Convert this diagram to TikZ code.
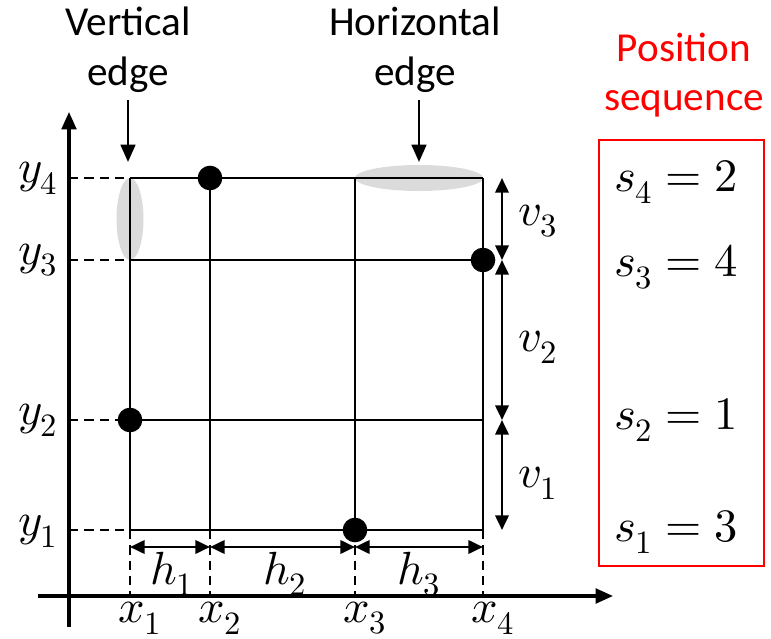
\documentclass[tikz,border=0pt]{standalone}
\usepackage{fontspec}
\usepackage{unicode-math}
\setmainfont{Carlito}
\setmathfont{Latin Modern Math}
\usetikzlibrary{arrows.meta}
\tikzset{
  axis/.style={line width=2.3bp,-{Triangle[length=13bp,width=11bp]}},
  gridline/.style={line width=1.9bp},
  guide/.style={line width=1.9bp,dash pattern=on 7bp off 4.5bp},
  dim/.style={line width=2bp,{Triangle[length=11bp,width=10bp]}-{Triangle[length=11bp,width=10bp]}},
  pointer/.style={line width=1.9bp,-{Triangle[length=13bp,width=11bp]}},
  dot/.style={circle,fill=black,inner sep=0pt,minimum size=18.5bp},
  edgehl/.style={fill=black!14,draw=none},
  lbl/.style={font=\fontsize{35}{40}\selectfont},
  txt/.style={font=\fontsize{31}{37.5}\selectfont,align=center},
}
\begin{document}
\begin{tikzpicture}[x=0.75bp,y=-0.75bp]
\useasboundingbox (0,0) rectangle (771,639);
% highlights
\fill[edgehl] (130,219) ellipse [x radius=13.5, y radius=41];
\fill[edgehl] (419,178) ellipse [x radius=64, y radius=13];
% axes
\coordinate (yb) at (69,627); \coordinate (yt) at (69,112);
\coordinate (xl) at (38,596); \coordinate (xr) at (613,596);
\draw[axis] (yb) -- (yt);
\draw[axis] (xl) -- (xr);
% grid corners
\foreach \i/\xx in {1/130,2/210,3/355,4/483}{
  \coordinate (t\i) at (\xx,178);
  \coordinate (b\i) at (\xx,530);
  \coordinate (a\i) at (\xx,596);
}
\foreach \j/\yy in {1/530,2/420,3/260,4/178}{
  \coordinate (l\j) at (130,\yy);
  \coordinate (r\j) at (483,\yy);
  \coordinate (g\j) at (69,\yy);
}
\foreach \i in {1,...,4}{
  \draw[gridline] (t\i) -- (b\i);
  \draw[gridline] (l\i) -- (r\i);
  \draw[guide] (g\i) -- (l\i);
  \draw[guide] (b\i) -- (a\i);
}
% dots
\node[dot] (p4) at (210,178) {};
\node[dot] (p3) at (483,260) {};
\node[dot] (p2) at (130,420) {};
\node[dot] (p1) at (355,530) {};
% horizontal dimensions
\coordinate (h1) at (130,547); \coordinate (h2) at (210,547);
\coordinate (h3) at (355,547); \coordinate (h4) at (483,547);
\draw[dim] (h1) -- (h2);
\draw[dim] (h2) -- (h3);
\draw[dim] (h3) -- (h4);
\node[lbl] (lh1) at (172,574) {$h_1$};
\node[lbl] (lh2) at (285,574) {$h_2$};
\node[lbl] (lh3) at (419,574) {$h_3$};
% vertical dimensions
\coordinate (v4) at (502,178); \coordinate (v3) at (502,260);
\coordinate (v2) at (502,420); \coordinate (v1) at (502,530);
\draw[dim] (v4) -- (v3);
\draw[dim] (v3) -- (v2);
\draw[dim] (v2) -- (v1);
\node[lbl] (lv3) at (538,221) {$v_3$};
\node[lbl] (lv2) at (538,347) {$v_2$};
\node[lbl] (lv1) at (538,483) {$v_1$};
% axis labels
\node[lbl] (lx1) at (140,618) {$x_1$};
\node[lbl] (lx2) at (220,618) {$x_2$};
\node[lbl] (lx3) at (365,618) {$x_3$};
\node[lbl] (lx4) at (493,618) {$x_4$};
\node[lbl] (ly4) at (38,178) {$y_4$};
\node[lbl] (ly3) at (38,260) {$y_3$};
\node[lbl] (ly2) at (38,420) {$y_2$};
\node[lbl] (ly1) at (38,531) {$y_1$};
% callouts
\node[txt] (vt) at (128,50) {Vertical\\edge};
\node[txt] (ht) at (415,50) {Horizontal\\edge};
\coordinate (va) at (128,100); \coordinate (vb) at (128,162);
\coordinate (ha) at (419,100); \coordinate (hb) at (419,162);
\draw[pointer] (va) -- (vb);
\draw[pointer] (ha) -- (hb);
% position sequence
\node[txt,text=red] (ps) at (684,75) {Position\\sequence};
\draw[red,line width=1.9bp] (599,140) rectangle (764,566);
\node[lbl] (s4) at (676,182) {$s_4=2$};
\node[lbl] (s3) at (676,267) {$s_3=4$};
\node[lbl] (s2) at (676,420) {$s_2=1$};
\node[lbl] (s1) at (676,532) {$s_1=3$};
\end{tikzpicture}
\end{document}
